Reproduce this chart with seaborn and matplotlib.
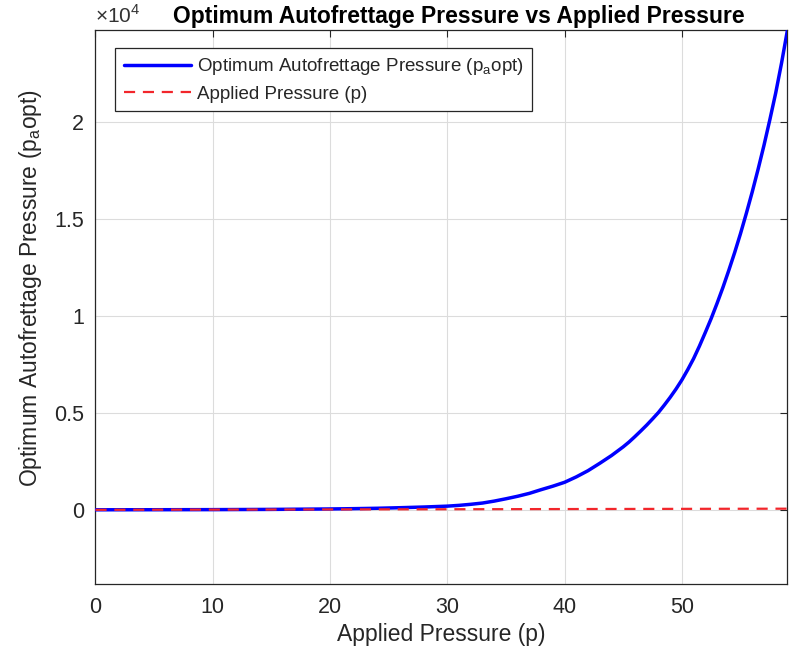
import matplotlib
matplotlib.use("Agg")
import matplotlib.pyplot as plt
import seaborn as sns
import pandas as pd
from matplotlib.ticker import FuncFormatter

# Data
applied_p = [0, 5, 10, 15, 20, 22, 24, 26, 28, 30, 31, 32, 33, 34, 35, 36, 37, 38, 39,
             40, 41, 42, 43, 44, 45, 45.5, 46, 46.5, 47, 47.5, 48, 48.5, 49, 49.5,
             50, 50.5, 51, 51.5, 52, 52.5, 53, 53.5, 54, 54.5, 55, 55.5, 56, 56.5,
             57, 57.5, 58, 58.5, 59]
pa_opt = [2, 5, 10, 22, 45, 60, 80, 110, 145, 190, 230, 285, 350, 450, 570, 700, 850, 1040, 1220,
          1420, 1700, 2020, 2400, 2800, 3250, 3500, 3780, 4070, 4370, 4690, 5020, 5400, 5800, 6230,
          6700, 7230, 7800, 8450, 9150, 9870, 10650, 11470, 12350, 13270, 14250, 15300, 16400, 17570,
          18800, 20120, 21500, 23050, 24740]
line_x = [0, 59]
line_p = [0, 59]

x_ticks = [0, 10, 20, 30, 40, 50]
y_ticks = [0, 5000, 10000, 15000, 20000]

sns.set_style("white")
plt.rcParams['font.family'] = ['Liberation Sans', 'DejaVu Sans']
plt.rcParams['mathtext.fontset'] = 'custom'
plt.rcParams['mathtext.rm'] = 'Liberation Sans'

fig = plt.figure(figsize=(7.89, 6.57), dpi=100)
ax = fig.add_axes([0.121, 0.111, 0.877, 0.843])

df1 = pd.DataFrame({"p": applied_p, "v": pa_opt})
df2 = pd.DataFrame({"p": line_x, "v": line_p})
sns.lineplot(data=df1, x="p", y="v", ax=ax, color=(0, 0, 1), linewidth=2.5,
             label=r"Optimum Autofrettage Pressure (p$_\mathregular{a}$opt)", zorder=3)
sns.lineplot(data=df2, x="p", y="v", ax=ax, color=(0.95, 0.15, 0.17), linewidth=1.6,
             linestyle=(0, (5, 3.5)), label="Applied Pressure (p)", zorder=4)

ax.set_xlim(0, 59)
ax.set_ylim(-3830, 24740)
ax.set_xticks(x_ticks)
ax.set_yticks(y_ticks)
ax.yaxis.set_major_formatter(FuncFormatter(lambda v, pos: f"{v/1e4:g}"))

ax.grid(True, color="#dcdcdc", linewidth=0.8)
ax.set_axisbelow(True)
for s in ax.spines.values():
    s.set_color("#262626")
    s.set_linewidth(0.9)
    s.set_visible(True)
ax.tick_params(direction="in", length=5, width=0.8, colors="#262626",
               labelsize=15.5, top=True, right=True, pad=9)
ax.tick_params(axis="y", pad=8)

ax.set_xlabel("Applied Pressure (p)", fontsize=16.5, color="#262626", labelpad=4)
ax.set_ylabel(r"Optimum Autofrettage Pressure (p$_\mathregular{a}$opt)", fontsize=16.5,
              color="#262626", labelpad=8)
ax.yaxis.set_label_coords(-0.074, 0.535)
ax.set_title("Optimum Autofrettage Pressure vs Applied Pressure", fontsize=16.5,
             fontweight="bold", color="black", pad=5, x=0.525)
ax.text(0.0, 1.006, r"$\times$10$^4$", transform=ax.transAxes, fontsize=15,
        color="#333333", ha="left", va="bottom")

leg = ax.legend(loc="upper left", bbox_to_anchor=(0.015, 0.985), fontsize=13.5,
                frameon=True, fancybox=False, edgecolor="#262626", framealpha=1,
                handlelength=3.6, handletextpad=0.3, borderpad=0.45, labelspacing=0.45)
leg.get_frame().set_linewidth(0.9)

fig.savefig("out.png", dpi=100)
